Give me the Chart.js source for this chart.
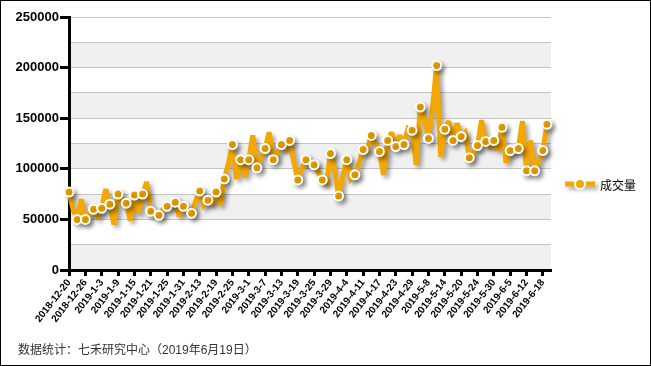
<!DOCTYPE html>
<html>
<head>
<meta charset="utf-8">
<script src="https://cdn.jsdelivr.net/npm/chart.js@4.4.1/dist/chart.umd.min.js"></script>
<style>
    html, body { margin: 0; padding: 0; background: #fff; }
    #wrap {
        position: relative;
        width: 651px;
        height: 366px;
        box-sizing: border-box;
        border: 1px solid #000;
        background: #fff;
    }
    #note {
        position: absolute;
        left: 17px;
        top: 339px;
        font: 12px "Liberation Sans", "Noto Sans CJK SC", sans-serif;
        color: #333;
        white-space: nowrap;
    }
</style>
</head>
<body>
<div id="wrap">
    <canvas id="chart" width="649" height="364"></canvas>
    <div id="note">数据统计：七禾研究中心（2019年6月19日）</div>
</div>
<script>
// 交易日 (2018-12-20 ~ 2019-6-20)
var dates = [
    '2018-12-20', '2018-12-21', '2018-12-24', '2018-12-25', '2018-12-26', '2018-12-27', '2018-12-28',
    '2019-1-2', '2019-1-3', '2019-1-4', '2019-1-7', '2019-1-8', '2019-1-9', '2019-1-10', '2019-1-11',
    '2019-1-14', '2019-1-15', '2019-1-16', '2019-1-17', '2019-1-18', '2019-1-21', '2019-1-22', '2019-1-23',
    '2019-1-24', '2019-1-25', '2019-1-28', '2019-1-29', '2019-1-30', '2019-1-31', '2019-2-1',
    '2019-2-11', '2019-2-12', '2019-2-13', '2019-2-14', '2019-2-15', '2019-2-18', '2019-2-19', '2019-2-20',
    '2019-2-21', '2019-2-22', '2019-2-25', '2019-2-26', '2019-2-27', '2019-2-28', '2019-3-1',
    '2019-3-4', '2019-3-5', '2019-3-6', '2019-3-7', '2019-3-8', '2019-3-11', '2019-3-12', '2019-3-13',
    '2019-3-14', '2019-3-15', '2019-3-18', '2019-3-19', '2019-3-20', '2019-3-21', '2019-3-22',
    '2019-3-25', '2019-3-26', '2019-3-27', '2019-3-28', '2019-3-29', '2019-4-1', '2019-4-2', '2019-4-3',
    '2019-4-4', '2019-4-8', '2019-4-9', '2019-4-10', '2019-4-11', '2019-4-12', '2019-4-15', '2019-4-16',
    '2019-4-17', '2019-4-18', '2019-4-19', '2019-4-22', '2019-4-23', '2019-4-24', '2019-4-25', '2019-4-26',
    '2019-4-29', '2019-4-30', '2019-5-6', '2019-5-7', '2019-5-8', '2019-5-9', '2019-5-10', '2019-5-13',
    '2019-5-14', '2019-5-15', '2019-5-16', '2019-5-17', '2019-5-20', '2019-5-21', '2019-5-22', '2019-5-23',
    '2019-5-24', '2019-5-27', '2019-5-28', '2019-5-29', '2019-5-30', '2019-5-31', '2019-6-3', '2019-6-4',
    '2019-6-5', '2019-6-6', '2019-6-10', '2019-6-11', '2019-6-12', '2019-6-13', '2019-6-14', '2019-6-17',
    '2019-6-18', '2019-6-19', '2019-6-20'
];

// 成交量 (手)
var volume = [
    77000, 60000, 50000, 70000, 50000, 55000, 60000, 53000, 61000, 80000,
    65000, 45000, 75000, 68000, 66000, 49000, 74000, 56000, 75000, 87000,
    58000, 55000, 54000, 60000, 63000, 64000, 67000, 53000, 63000, 58000,
    56000, 68000, 78000, 64000, 69000, 66000, 77000, 64000, 90000, 105000,
    124000, 90000, 109000, 92000, 109000, 133000, 101000, 112000, 120000, 136000,
    109000, 115000, 124000, 120000, 128000, 108000, 89000, 100000, 109000, 103000,
    104000, 97000, 89000, 84000, 115000, 100000, 73000, 92000, 109000, 90000,
    94000, 105000, 119000, 118000, 133000, 125000, 117000, 94000, 128000, 136000,
    122000, 133000, 124000, 140000, 138000, 104000, 161000, 150000, 130000, 160000,
    202000, 112000, 139000, 147000, 128000, 145000, 132000, 136000, 111000, 116000,
    123000, 148000, 127000, 122000, 128000, 118000, 141000, 106000, 118000, 118000,
    120000, 147000, 98000, 128000, 98000, 108000, 118000, 144000
];

var yTicks = [0, 50000, 100000, 150000, 200000, 250000];
var seriesName = '成交量';
var orange = '#f4a700';

// 背景条纹
var bandPlugin = {
    id: 'bands',
    beforeDraw: function (chart) {
        var c = chart.ctx, a = chart.chartArea, y = chart.scales.y;
        c.save();
        c.fillStyle = '#fff';
        c.fillRect(0, 0, chart.width, chart.height);
        c.fillStyle = '#f0f0f0';
        for (var v = 0; v < 250000; v += 50000) {
            var top = y.getPixelForValue(v + 25000);
            var bot = y.getPixelForValue(v);
            c.fillRect(a.left, top, a.right - a.left, bot - top);
        }
        c.restore();
    }
};

// 折线阴影
var shadowPlugin = {
    id: 'lineShadow',
    beforeDatasetsDraw: function (chart) {
        var c = chart.ctx;
        c.save();
        c.miterLimit = 2.5;
        c.shadowColor = 'rgba(0, 0, 0, 0.35)';
        c.shadowOffsetX = 3;
        c.shadowOffsetY = 3;
        c.shadowBlur = 4;
    },
    afterDatasetsDraw: function (chart) {
        chart.ctx.restore();
    }
};

// 图例
var legendPlugin = {
    id: 'sideLegend',
    afterDraw: function (chart) {
        var c = chart.ctx, a = chart.chartArea;
        var x0 = a.right + 14, yy = 183;
        c.save();
        c.shadowColor = 'rgba(0, 0, 0, 0.35)';
        c.shadowOffsetX = 3;
        c.shadowOffsetY = 3;
        c.shadowBlur = 4;
        c.strokeStyle = orange;
        c.lineWidth = 5;
        c.beginPath();
        c.moveTo(x0, yy);
        c.lineTo(x0 + 30, yy);
        c.stroke();
        c.shadowColor = 'transparent';
        c.beginPath();
        c.arc(x0 + 15, yy, 5, 0, Math.PI * 2);
        c.fillStyle = orange;
        c.fill();
        c.lineWidth = 2;
        c.strokeStyle = '#fff';
        c.stroke();
        c.fillStyle = '#000';
        c.font = '12px "Noto Sans CJK SC", sans-serif';
        c.textBaseline = 'middle';
        c.fillText(seriesName, x0 + 35, yy + 1);
        c.restore();
    }
};

var last = volume.length - 1;

new Chart(document.getElementById('chart'), {
    type: 'line',
    data: {
        labels: dates,
        datasets: [{
            label: seriesName,
            data: volume,
            borderColor: orange,
            borderWidth: 5,
            borderJoinStyle: 'miter',
            tension: 0,
            pointRadius: function (ctx) {
                return (ctx.dataIndex % 2 === 0 || ctx.dataIndex === last) ? 4.5 : 0;
            },
            pointHoverRadius: 4.5,
            pointBackgroundColor: orange,
            pointBorderColor: '#fff',
            pointBorderWidth: 2
        }]
    },
    options: {
        responsive: false,
        animation: false,
        layout: { padding: { left: 0, top: 16, right: 99, bottom: 0 } },
        plugins: {
            legend: { display: false },
            tooltip: { enabled: false }
        },
        scales: {
            x: {
                afterFit: function (s) { s.height = 95; },
                border: { color: '#000', width: 3 },
                grid: {
                    drawOnChartArea: false,
                    tickLength: 6,
                    tickWidth: 3,
                    tickColor: '#000'
                },
                ticks: {
                    autoSkip: false,
                    minRotation: 52,
                    maxRotation: 52,
                    padding: 1,
                    color: '#000',
                    font: { size: 10, weight: 'bold', family: "'Liberation Sans', Arial, sans-serif" },
                    callback: function (v, i) {
                        return i % 4 === 0 ? dates[i] : null;
                    }
                }
            },
            y: {
                min: 0,
                max: 250000,
                afterFit: function (s) { s.width = 68; },
                border: { color: '#000', width: 3 },
                grid: {
                    color: '#c4c4c4',
                    lineWidth: 1,
                    tickLength: 9,
                    tickWidth: 3,
                    tickColor: function (ctx) {
                        return yTicks.indexOf(ctx.tick.value) >= 0 ? '#000' : 'rgba(0,0,0,0)';
                    }
                },
                ticks: {
                    stepSize: 25000,
                    padding: 1,
                    color: '#000',
                    font: { size: 13, weight: 'bold', family: "'Liberation Sans', Arial, sans-serif" },
                    callback: function (v) {
                        return yTicks.indexOf(v) >= 0 ? String(v) : '';
                    }
                }
            }
        }
    },
    plugins: [bandPlugin, shadowPlugin, legendPlugin]
});
</script>
</body>
</html>
